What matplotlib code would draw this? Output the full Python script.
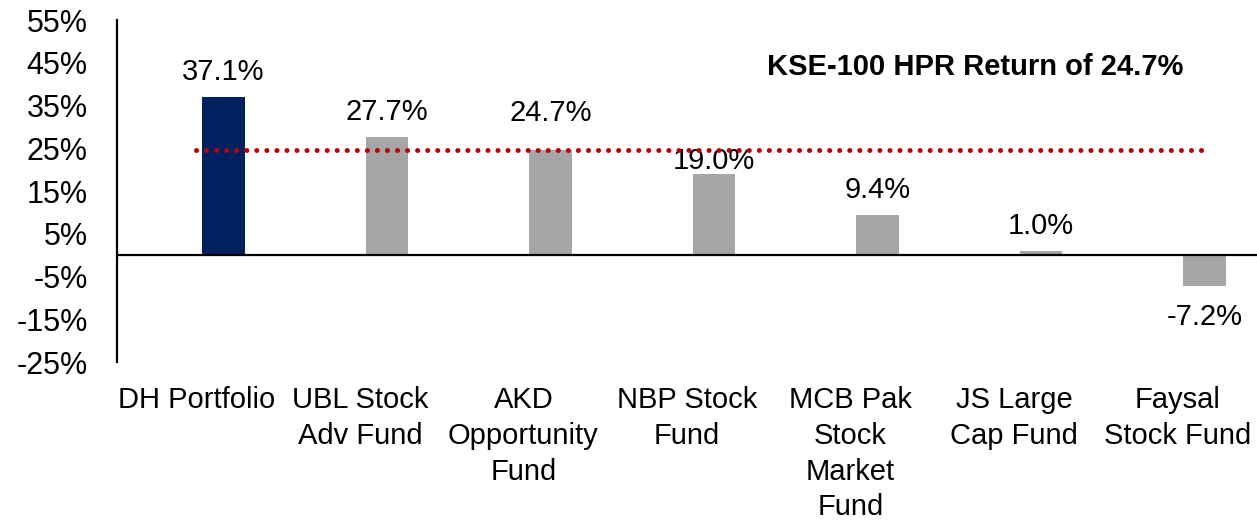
import matplotlib.pyplot as plt
from matplotlib.ticker import FuncFormatter

plt.rcParams['font.family'] = ['Liberation Sans', 'DejaVu Sans']

FUNDS = ["DH Portfolio", "UBL Stock\nAdv Fund", "AKD\nOpportunity\nFund", "NBP Stock\nFund",
         "MCB Pak\nStock\nMarket\nFund", "JS Large\nCap Fund", "Faysal\nStock Fund"]
RETURNS = [37.1, 27.7, 24.7, 19.0, 9.4, 1.0, -7.2]
KSE_RETURN = 24.7
Y_TICKS = [55, 45, 35, 25, 15, 5, -5, -15, -25]

# label offset from the bar end, in points (excel moved two of them around)
LABEL_OFFSET = [18, 18, 26, 9, 18, 18, -22]
# category text sits a bit left of the bars in the original
CAT_SHIFT = -0.165

NAVY = "#002060"
GREY = "#A6A6A6"
RED = "#C00000"

fig = plt.figure(figsize=(12.57, 5.21), dpi=100)
ax = fig.add_axes([0.0931, 0.305, 0.9069, 0.6566])

x = list(range(len(FUNDS)))
colors = [NAVY] + [GREY] * (len(FUNDS) - 1)
ax.bar(x, RETURNS, width=0.26, color=colors, zorder=2)

for xi, v, off in zip(x, RETURNS, LABEL_OFFSET):
    ax.annotate(f"{v:.1f}%", (xi, v), xytext=(0, off), textcoords="offset points",
                ha="center", va="center", fontsize=21)

# benchmark line (round dots)
ax.plot([CAT_SHIFT, 6.0], [KSE_RETURN, KSE_RETURN], color=RED, linestyle=(0, (0.01, 2.0)),
        linewidth=3.6, dash_capstyle="round", zorder=3)
ax.text(4.6, 44, f"KSE-100 HPR Return of {KSE_RETURN}%", ha="center", va="center",
        fontsize=21, fontweight="bold")

ax.axhline(0, color="black", linewidth=1.6, zorder=4)

ax.set_xlim(-0.65, 6.32)
ax.set_ylim(-25, 55)
ax.set_yticks(Y_TICKS)
ax.yaxis.set_major_formatter(FuncFormatter(lambda v, p: f"{v:.0f}%"))
ax.set_xticks([xi + CAT_SHIFT for xi in x])
ax.set_xticklabels(FUNDS, fontsize=21, linespacing=1.36)
ax.tick_params(axis="both", length=0)
ax.tick_params(axis="y", labelsize=22, pad=21)
ax.tick_params(axis="x", pad=17)

for side in ["top", "right", "bottom"]:
    ax.spines[side].set_visible(False)
ax.spines["left"].set_linewidth(1.6)

fig.savefig("out.png", dpi=100)
